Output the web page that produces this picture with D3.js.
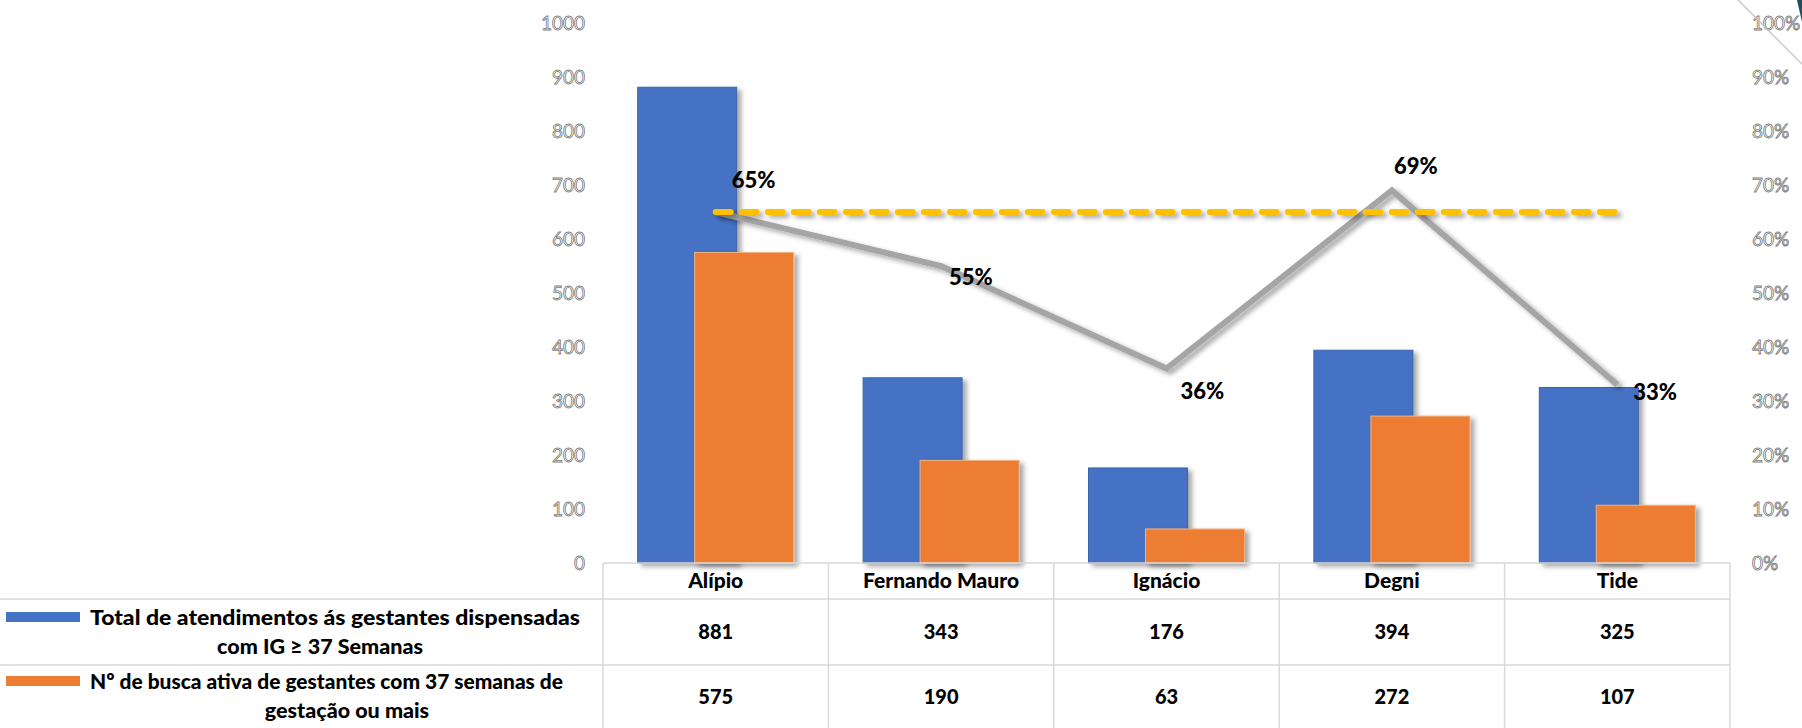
<!DOCTYPE html>
<html>
<head>
<meta charset="utf-8">
<script src="https://cdn.jsdelivr.net/npm/d3@7"></script>
<style>
  body { margin: 0; background: #fff; }
  svg { display: block; }
  .tick text { font-family: Lato, "Open Sans", sans-serif; font-size: 19px; fill: #fcfcfc; stroke: #7a7a7a; stroke-width: 0.8px; }
  .cell { font-family: Lato, sans-serif; font-weight: 900; fill: #000; }
</style>
</head>
<body>
<svg width="1802" height="728"></svg>
<script>
var categories = ["Alípio", "Fernando Mauro", "Ignácio", "Degni", "Tide"];
var totalAtend = [881, 343, 176, 394, 325];
var buscaAtiva = [575, 190, 63, 272, 107];
var percent = [0.65, 0.55, 0.36, 0.69, 0.33];
var meta = [0.65, 0.65, 0.65, 0.65, 0.65];
var leftTicks = [0, 100, 200, 300, 400, 500, 600, 700, 800, 900, 1000];
var rightTicks = [0, 0.1, 0.2, 0.3, 0.4, 0.5, 0.6, 0.7, 0.8, 0.9, 1];
var legendLines = [
  ["Total de atendimentos ás gestantes dispensadas", "com IG  \u2265  37 Semanas"],
  ["N\u00ba de busca ativa de gestantes com 37 semanas de", "gestação ou mais"]
];

var blue = "#4472C4", orange = "#ED7D31", grey = "#A5A5A5", gold = "#FFC000";

var svg = d3.select("svg"),
    plotLeft = 603, plotRight = 1730, plotTop = 23, plotBottom = 563;

var defs = svg.append("defs");
defs.append("filter").attr("id", "shadow")
    .attr("filterUnits", "userSpaceOnUse")
    .attr("x", 0).attr("y", 0).attr("width", 1802).attr("height", 728)
  .append("feDropShadow")
    .attr("dx", 4).attr("dy", 3).attr("stdDeviation", 2.5)
    .attr("flood-color", "#000").attr("flood-opacity", 0.35);

var x = d3.scaleBand().domain(categories).range([plotLeft, plotRight]);
var y = d3.scaleLinear().domain([0, 1000]).range([plotBottom, plotTop]);
var yp = d3.scaleLinear().domain([0, 1]).range([plotBottom, plotTop]);

// axes (no lines, only outlined labels)
svg.append("g")
    .attr("transform", "translate(590,0)")
    .call(d3.axisLeft(y).tickValues(leftTicks).tickSize(0).tickPadding(5).tickFormat(d3.format("d")))
    .call(g => g.select(".domain").remove());

svg.append("g")
    .attr("transform", "translate(1748,0)")
    .call(d3.axisRight(yp).tickValues(rightTicks).tickSize(0).tickPadding(4).tickFormat(d3.format(".0%")))
    .call(g => g.select(".domain").remove());

// bars
var bw = 99, off = 28.5;
var cx = d => x(d) + x.bandwidth() / 2;

svg.append("g").selectAll("rect")
    .data(categories)
  .join("rect")
    .attr("x", d => cx(d) - off - bw / 2)
    .attr("y", (d, i) => y(totalAtend[i]))
    .attr("width", bw)
    .attr("height", (d, i) => y(0) - y(totalAtend[i]))
    .attr("fill", blue)
    .attr("stroke", "#3a63ad").attr("stroke-width", 1)
    .attr("filter", "url(#shadow)");

svg.append("g").selectAll("rect")
    .data(categories)
  .join("rect")
    .attr("x", d => cx(d) + off - bw / 2)
    .attr("y", (d, i) => y(buscaAtiva[i]))
    .attr("width", bw)
    .attr("height", (d, i) => y(0) - y(buscaAtiva[i]))
    .attr("fill", orange)
    .attr("stroke", "#f4b183").attr("stroke-width", 1)
    .attr("filter", "url(#shadow)");

// percentage line + meta
var pline = d3.line()
    .x((d, i) => cx(categories[i]))
    .y(d => yp(d));

svg.append("path")
    .datum(percent)
    .attr("d", pline)
    .attr("fill", "none")
    .attr("stroke", grey)
    .attr("stroke-width", 6)
    .attr("stroke-linejoin", "miter")
    .attr("filter", "url(#shadow)");

svg.append("path")
    .datum(meta)
    .attr("d", pline)
    .attr("fill", "none")
    .attr("stroke", gold)
    .attr("stroke-width", 6)
    .attr("stroke-linecap", "round")
    .attr("stroke-dasharray", "15 11")
    .attr("filter", "url(#shadow)");

// data labels
var lblOff = [[16, -32], [8, 11], [14, 23], [2, -24], [16, 7]];
svg.append("g").selectAll("text")
    .data(percent)
  .join("text")
    .attr("class", "cell")
    .attr("x", (d, i) => cx(categories[i]) + lblOff[i][0])
    .attr("y", (d, i) => yp(d) + lblOff[i][1])
    .attr("dy", "0.35em")
    .style("font-size", "22px")
    .text(d => d3.format(".0%")(d));

// data table
var rows = [plotBottom, 599, 665];
var lineC = "#d9d9d9";
var tbl = svg.append("g");
tbl.append("line").attr("x1", plotLeft).attr("x2", plotRight).attr("y1", rows[0]).attr("y2", rows[0]);
tbl.append("line").attr("x1", 0).attr("x2", plotRight).attr("y1", rows[1]).attr("y2", rows[1]);
tbl.append("line").attr("x1", 0).attr("x2", plotRight).attr("y1", rows[2]).attr("y2", rows[2]);
tbl.selectAll(".vl")
    .data(categories.concat(["end"]))
  .join("line")
    .attr("class", "vl")
    .attr("x1", d => d === "end" ? plotRight : x(d))
    .attr("x2", d => d === "end" ? plotRight : x(d))
    .attr("y1", rows[0]).attr("y2", 728);
tbl.selectAll("line").attr("stroke", lineC).attr("stroke-width", 1.5);

tbl.selectAll(".cat")
    .data(categories)
  .join("text")
    .attr("class", "cell cat")
    .attr("x", cx).attr("y", 581).attr("dy", "0.35em")
    .attr("text-anchor", "middle").style("font-size", "21px")
    .text(d => d);

[totalAtend, buscaAtiva].forEach((vals, r) => {
  tbl.selectAll(".v" + r)
      .data(vals)
    .join("text")
      .attr("class", "cell v" + r)
      .attr("x", (d, i) => cx(categories[i]))
      .attr("y", r === 0 ? 632 : 697).attr("dy", "0.35em")
      .attr("text-anchor", "middle").style("font-size", "20px")
      .text(d => d);
});

// legend keys in the table
var firstLineLen = [490, 473];
[blue, orange].forEach((c, r) => {
  var ly = r === 0 ? 617 : 681;
  tbl.append("rect").attr("x", 6).attr("y", ly - 5).attr("width", 74).attr("height", 10).attr("fill", c);
  tbl.append("text").attr("class", "cell")
      .attr("x", 90).attr("y", ly).attr("dy", "0.35em")
      .attr("textLength", firstLineLen[r]).attr("lengthAdjust", "spacingAndGlyphs")
      .style("font-size", "21.5px")
      .text(legendLines[r][0]);
  tbl.append("text").attr("class", "cell")
      .attr("x", r === 0 ? 320 : 347).attr("y", ly + 29).attr("dy", "0.35em")
      .attr("text-anchor", "middle").style("font-size", "21.5px")
      .text(legendLines[r][1]);
});

// corner decoration
svg.append("line").attr("x1", 1738).attr("y1", 0).attr("x2", 1802).attr("y2", 64)
    .attr("stroke", "#c8c8c8").attr("stroke-width", 1.5);
svg.append("path").attr("d", "M1797,0 L1802,0 L1802,22 Z").attr("fill", "#1f4e5f");
</script>
</body>
</html>
